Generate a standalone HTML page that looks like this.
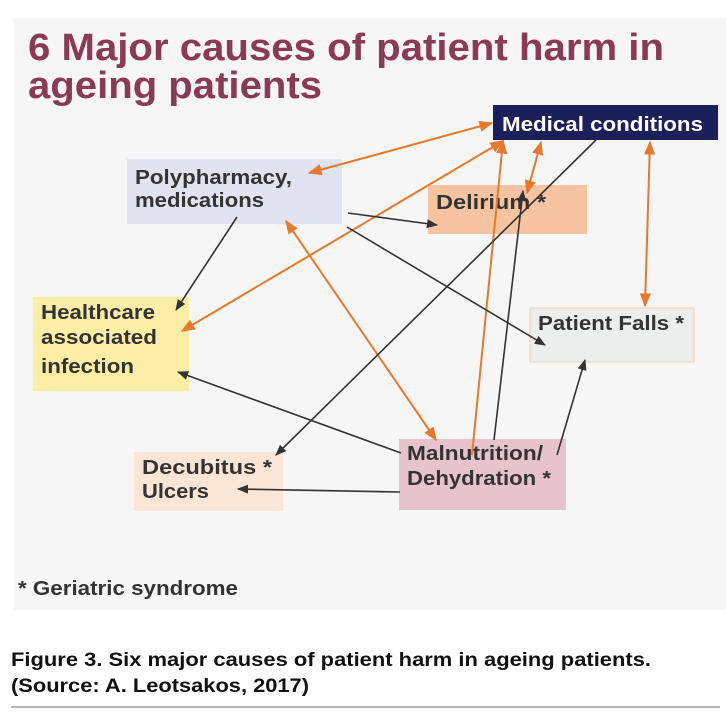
<!DOCTYPE html>
<html><head><style>body{margin:0;background:#fff}svg{display:block}</style></head><body>
<svg width="726" height="712" viewBox="0 0 726 712" xmlns="http://www.w3.org/2000/svg" font-family="Liberation Sans, sans-serif">
<defs>
<marker id="ao" viewBox="0 0 10 10" refX="9" refY="5" markerWidth="7" markerHeight="7" orient="auto-start-reverse"><path d="M0,1 L10,5 L0,9 z" fill="#e8782a"/></marker>
<marker id="ab" viewBox="0 0 10 10" refX="9" refY="5" markerWidth="7" markerHeight="7" orient="auto-start-reverse"><path d="M0,1 L10,5 L0,9 z" fill="#333"/></marker>
</defs>
<rect x="14" y="18" width="712" height="592" fill="#f6f6f6"/>
<g font-weight="bold" fill="#8b3a55" font-size="38">
<text x="28" y="60" textLength="636" lengthAdjust="spacingAndGlyphs">6 Major causes of patient harm in</text>
<text x="28" y="98" textLength="294" lengthAdjust="spacingAndGlyphs">ageing patients</text>
</g>
<rect x="493" y="105" width="225" height="35" fill="#1b1f5a"/>
<rect x="127" y="159" width="215" height="65" fill="#e1e3f1"/>
<rect x="428" y="185" width="159" height="49" fill="#f8c3a0"/>
<rect x="33" y="297" width="156" height="94" fill="#fcefa5"/>
<rect x="530" y="308" width="164" height="54" fill="#eceeed" stroke="#f2cfa8" stroke-width="1"/>
<rect x="134" y="452" width="149" height="59" fill="#fbe6d6"/>
<rect x="399" y="439" width="167" height="71" fill="#e7c3cd"/>
<g font-weight="bold" font-size="20" fill="#333">
<text x="502" y="131" fill="#fff" textLength="201" lengthAdjust="spacingAndGlyphs">Medical conditions</text>
<text x="135" y="184" textLength="157" lengthAdjust="spacingAndGlyphs">Polypharmacy,</text>
<text x="135" y="207" textLength="129" lengthAdjust="spacingAndGlyphs">medications</text>
<text x="436" y="209" textLength="110" lengthAdjust="spacingAndGlyphs">Delirium  *</text>
<text x="41" y="319" textLength="114" lengthAdjust="spacingAndGlyphs">Healthcare</text>
<text x="41" y="344" textLength="116" lengthAdjust="spacingAndGlyphs">associated</text>
<text x="41" y="373" textLength="93" lengthAdjust="spacingAndGlyphs">infection</text>
<text x="538" y="330" textLength="146" lengthAdjust="spacingAndGlyphs">Patient Falls *</text>
<text x="142" y="474" textLength="130" lengthAdjust="spacingAndGlyphs">Decubitus  *</text>
<text x="142" y="498" textLength="67" lengthAdjust="spacingAndGlyphs">Ulcers</text>
<text x="407" y="460" textLength="136" lengthAdjust="spacingAndGlyphs">Malnutrition/</text>
<text x="407" y="485" textLength="144" lengthAdjust="spacingAndGlyphs">Dehydration *</text>
<text x="18" y="595" textLength="220" lengthAdjust="spacingAndGlyphs">* Geriatric syndrome</text>
</g>
<g stroke="#e8782a" stroke-width="2" fill="none">
<line x1="492" y1="123" x2="309" y2="173" marker-start="url(#ao)" marker-end="url(#ao)"/>
<line x1="503" y1="141" x2="182" y2="331" marker-start="url(#ao)" marker-end="url(#ao)"/>
<line x1="503" y1="141" x2="472" y2="455" marker-start="url(#ao)"/>
<line x1="286" y1="221" x2="436" y2="440" marker-start="url(#ao)" marker-end="url(#ao)"/>
<line x1="541" y1="142" x2="527" y2="193" marker-start="url(#ao)" marker-end="url(#ao)"/>
<line x1="650" y1="142" x2="645" y2="306" marker-start="url(#ao)" marker-end="url(#ao)"/>
</g>
<g stroke="#333" stroke-width="1.6" fill="none">
<line x1="237" y1="217" x2="176" y2="310" marker-end="url(#ab)"/>
<line x1="348" y1="213" x2="437" y2="225" marker-end="url(#ab)"/>
<line x1="347" y1="227" x2="545" y2="345" marker-end="url(#ab)"/>
<line x1="596" y1="140" x2="276" y2="455" marker-end="url(#ab)"/>
<line x1="401" y1="453" x2="178" y2="372" marker-end="url(#ab)"/>
<line x1="494" y1="440" x2="523" y2="191" marker-end="url(#ab)"/>
<line x1="557" y1="455" x2="585" y2="360" marker-end="url(#ab)"/>
<line x1="400" y1="492" x2="238" y2="489" marker-end="url(#ab)"/>
</g>
<g font-weight="bold" font-size="19" fill="#111" font-family="Liberation Sans Narrow, Liberation Sans, sans-serif">
<text x="11" y="666" textLength="640" lengthAdjust="spacingAndGlyphs">Figure 3. Six major causes of patient harm in ageing patients.</text>
<text x="11" y="692" textLength="298" lengthAdjust="spacingAndGlyphs">(Source: A. Leotsakos, 2017)</text>
</g>
<line x1="11" y1="707" x2="720" y2="707" stroke="#888" stroke-width="1.2"/>
</svg>
</body></html>
